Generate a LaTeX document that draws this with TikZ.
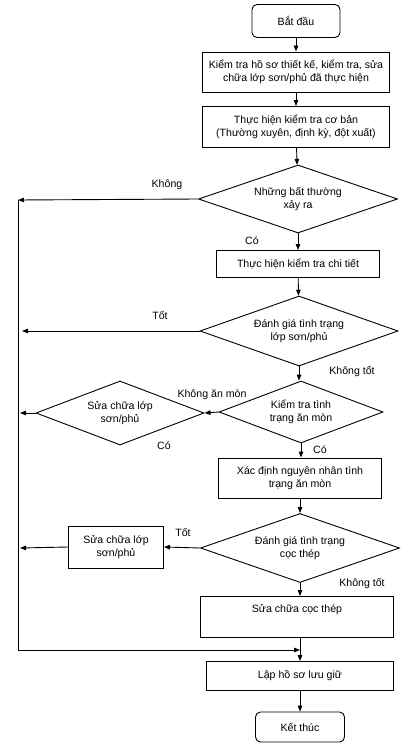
\documentclass[tikz,border=0pt]{standalone}
\usepackage{fontspec}
\setmainfont{Liberation Sans}
\usetikzlibrary{shapes.geometric,arrows.meta}
\begin{document}
\begin{tikzpicture}[x=1pt,y=-1pt,
  every node/.style={font=\fontsize{10.6}{13}\selectfont},
  proc/.style={draw,line width=0.9pt,rectangle,inner sep=0pt,align=center},
  term/.style={draw,line width=0.9pt,rectangle,rounded corners=5pt,inner sep=0pt,align=center},
  dec/.style={draw,line width=0.9pt,diamond,inner sep=0pt,aspect=2.8,align=center},
  lbl/.style={inner sep=0pt},
  flow/.style={line width=0.9pt,-{Triangle[length=6pt,width=4.5pt]}},
  plain/.style={line width=0.9pt}]
\useasboundingbox (0,0) rectangle (417,751);
\fill[white] (0,0) rectangle (417,751);

\node[term,minimum width=88pt,minimum height=33pt] (start) at (296,21) {Bắt đầu};
\node[proc,minimum width=187pt,minimum height=40pt] (b2) at (296,72) {Kiểm tra hồ sơ thiết kế, kiểm tra, sửa\\chữa lớp sơn/phủ đã thực hiện};
\node[proc,minimum width=187pt,minimum height=41pt] (b3) at (296,127) {Thực hiện kiểm tra cơ bản\\(Thường xuyên, định kỳ, đột xuất)};
\node[dec,minimum width=199pt,minimum height=68pt] (d1) at (298,199) {Những bất thường\\xảy ra};
\node[proc,minimum width=163pt,minimum height=27pt] (b4) at (298,264) {Thực hiện kiểm tra chi tiết};
\node[dec,minimum width=198pt,minimum height=70pt] (d2) at (299,331) {Đánh giá tình trạng\\lớp sơn/phủ};
\node[dec,minimum width=164pt,minimum height=62pt] (d3) at (301,412) {Kiểm tra tình\\trạng ăn mòn};
\node[dec,minimum width=168pt,minimum height=64pt] (d4) at (120,413) {Sửa chữa lớp\\sơn/phủ};
\node[proc,minimum width=163pt,minimum height=40pt] (b5) at (300,478) {Xác định nguyên nhân tình\\trạng ăn mòn};
\node[dec,minimum width=199pt,minimum height=69pt] (d5) at (300,548) {Đánh giá tình trạng\\cọc thép};
\node[proc,minimum width=95pt,minimum height=42pt] (b6) at (116,547) {Sửa chữa lớp\\sơn/phủ};
\node[proc,minimum width=193pt,minimum height=41pt] (b7) at (297,617) {Sửa chữa cọc thép\\\strut};
\node[proc,minimum width=187pt,minimum height=29pt] (b8) at (300,676) {Lập hồ sơ lưu giữ};
\node[term,minimum width=89pt,minimum height=30pt] (end) at (300,727) {Kết thúc};

\coordinate (ltop) at (18,200);
\coordinate (lbot) at (18,650);
\coordinate (a2) at (22,331);
\coordinate (a4) at (20,413);
\coordinate (a6) at (20,548);
\coordinate (m78) at (b8.north |- lbot);

\draw[flow] (start) -- (b2);
\draw[flow] (b2) -- (b3);
\draw[flow] (b3) -- (d1);
\draw[flow] (d1) -- (b4);
\draw[flow] (b4) -- (d2);
\draw[flow] (d2.south) -- (d2.south |- d3.north);
\draw[flow] (d3) -- (d3 |- b5.north);
\draw[flow] (b5) -- (b5 |- d5.north);
\draw[flow] (d5) -- (d5 |- b7.north);
\draw[flow] (b7.south -| b8.north) -- (b8);
\draw[flow] (b8) -- (end);

\draw[flow] (d1.west) -- (ltop);
\draw[flow] (d2.west) -- (a2);
\draw[flow] (d3.west) -- (d4.east);
\draw[flow] (d4.west) -- (a4);
\draw[flow] (d5.west) -- (b6.east);
\draw[flow] (b6.west) -- (a6);
\draw[plain] (ltop) -- (lbot);
\draw[flow] (lbot) -- (m78);

\node[lbl] (l1) at (167,185) {Không};
\node[lbl] (l2) at (252,241) {Có};
\node[lbl] (l3) at (160,315) {Tốt};
\node[lbl] (l4) at (352,372) {Không tốt};
\node[lbl] (l5) at (212,395) {Không ăn mòn};
\node[lbl] (l6) at (164,446) {Có};
\node[lbl] (l7) at (320,450) {Có};
\node[lbl] (l8) at (183,532) {Tốt};
\node[lbl] (l9) at (362,584) {Không tốt};
\end{tikzpicture}
\end{document}
